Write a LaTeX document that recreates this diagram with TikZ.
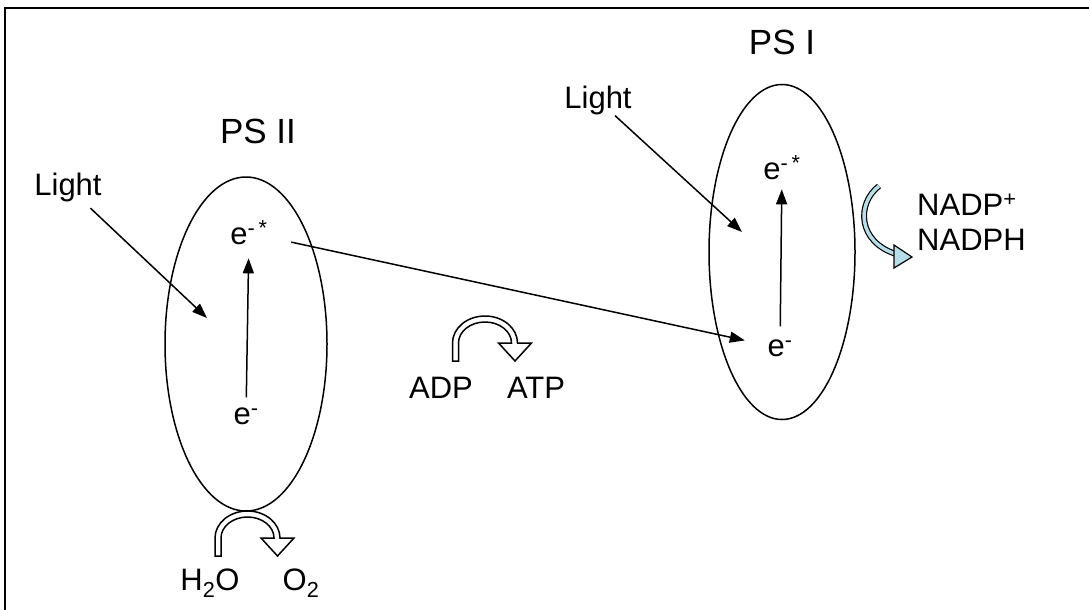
\documentclass[tikz,border=0pt]{standalone}
\usepackage{fontspec}
\setmainfont{Liberation Sans}
\usetikzlibrary{shapes.geometric,arrows.meta,positioning}
\definecolor{nadpblue}{RGB}{183,222,232}

\begin{document}
\begin{tikzpicture}[
        x=1pt, y=-1pt,
        lbl/.style={font=\fontsize{31}{36}\selectfont, inner sep=1pt},
        title/.style={font=\fontsize{35}{40}\selectfont, inner sep=1pt},
        ps/.style={ellipse, draw=black, line width=1.5pt, inner sep=0pt},
        arr/.style={-{Triangle[length=15pt,width=11pt]}, line width=1.5pt},
        turnarrow/.pic={
            \draw[line width=1.5pt, fill=white, line join=miter]
                (-32.5,18) -- (-32.5,0)
                arc[start angle=180, end angle=360, x radius=32.5, y radius=27]
                -- (46.5,0) -- (30,18) -- (13.5,0) -- (26.5,0)
                arc[start angle=360, end angle=180, x radius=26.5, y radius=21]
                -- (-26.5,18) -- cycle;
        }
    ]
    \useasboundingbox (0,0) rectangle (1089,610);

    % frame
    \draw[line width=1.8pt] (5,610) -- (5,8) -- (1089,8);

    % Photosystem II
    \node[title] (psiilabel) at (258,131) {PS II};
    \node[ps, minimum width=162pt, minimum height=334pt] (psii) at (246,344) {};
    \node[lbl] (estarii) at (249,233) {e\textsuperscript{-\,*}};
    \node[lbl] (eii) at (246,416) {e\textsuperscript{-}};
    \node[lbl] (lightii) at (68,187) {Light};
    \coordinate (hitii) at (207,318);

    % Photosystem I
    \node[title] (psilabel) at (782,42) {PS I};
    \node[ps, minimum width=146pt, minimum height=335pt] (psi) at (782,252) {};
    \node[lbl] (estari) at (782,168) {e\textsuperscript{-\,*}};
    \node[lbl] (ei) at (780,348) {e\textsuperscript{-}};
    \node[lbl] (lighti) at (598,100) {Light};
    \coordinate (hiti) at (742,232);

    % NADP
    \node[lbl, anchor=west] (nadp) at (916,205) {NADP\textsuperscript{+}};
    \node[lbl, anchor=west] (nadph) at (916,240) {NADPH};

    % ATP and water
    \node[lbl] (adp) at (441,388) {ADP};
    \node[lbl] (atp) at (536,388) {ATP};
    \node[lbl] (water) at (210,583) {H\textsubscript{2}O};
    \node[lbl] (oxygen) at (301,583) {O\textsubscript{2}};

    % Connections
    \draw[arr, shorten <=9pt, shorten >=12pt] (eii) -- (estarii);
    \draw[arr, shorten <=12pt, shorten >=8pt] (ei) -- (estari);
    \draw[arr, shorten <=8pt] (lightii) -- (hitii);
    \draw[arr] (lighti) -- (hiti);
    \draw[arr, shorten <=23pt, shorten >=22pt] (estarii) -- (ei);

    \pic at (485,343) {turnarrow};
    \pic at (247.5,538) {turnarrow};

    \draw[line width=1.2pt, double=nadpblue, double distance=3.5pt]
        (879,186) .. controls (856,204) and (858,242) .. (896,254);
    \draw[line width=1.2pt, fill=nadpblue, line join=miter]
        (894,245) -- (912,257) -- (894,268) -- cycle;
\end{tikzpicture}
\end{document}
